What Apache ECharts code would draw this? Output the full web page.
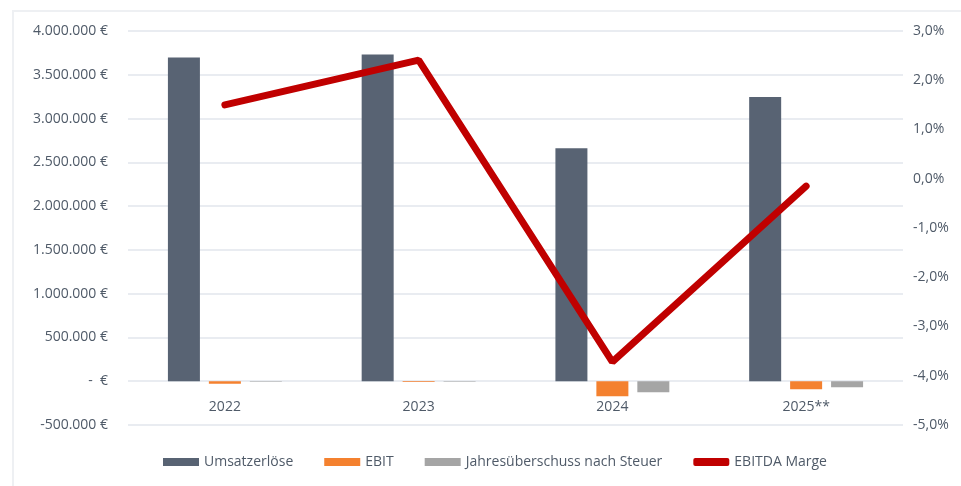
<!DOCTYPE html>
<html>
<head>
<meta charset="utf-8">
<script src="https://cdn.jsdelivr.net/npm/echarts@6/dist/echarts.min.js"></script>
<style>
html, body { margin: 0; padding: 0; background: #fff; }
#chart { width: 961px; height: 486px; position: relative; }
#frame { position: absolute; left: 12px; top: 10px; right: -2px; bottom: -2px; border-left: 2px solid #eef0f3; border-top: 2px solid #eef0f3; pointer-events: none; }
</style>
</head>
<body>
<div id="chart"></div>
<div id="frame"></div>
<script>
var years = ['2022', '2023', '2024', '2025**'];
var umsatz = [3698000, 3733000, 2660000, 3245000];
var ebit = [-30000, -10000, -171000, -91000];
var jahres = [-6000, -5000, -125000, -68000];
var marge = [1.50, 2.41, -3.72, -0.15];

var textColor = '#4f5a68';
var fontFam = '"Open Sans", "Noto Sans", sans-serif';

// Excel-Buchhaltungsformat nachbauen
function euroFmt(v) {
	if (v === 0) return '-  €';
	var s = Math.abs(v).toString().replace(/\B(?=(\d{3})+(?!\d))/g, '.');
	return (v < 0 ? '-' : '') + s + ' €';
}
function pctFmt(v) {
	return v.toFixed(1).replace('.', ',') + '%';
}

var myChart = echarts.init(document.getElementById('chart'));
var option = {
	animation: false,
	textStyle: { fontFamily: fontFam },
	grid: { left: 128, right: 58, top: 31, bottom: 61 },
	legend: {
		bottom: 12,
		left: 158,
		itemGap: 31,
		itemWidth: 36,
		itemHeight: 8,
		textStyle: { color: textColor, fontSize: 14, fontFamily: fontFam },
		data: [
			{ name: 'Umsatzerlöse', icon: 'rect' },
			{ name: 'EBIT', icon: 'rect' },
			{ name: 'Jahresüberschuss nach Steuer', icon: 'rect' },
			{ name: 'EBITDA Marge', icon: 'roundRect', itemStyle: { color: '#c00000' } }
		]
	},
	xAxis: {
		type: 'category',
		data: years,
		axisLine: { onZero: false, show: false },
		axisTick: { show: false },
		axisLabel: { color: textColor, fontSize: 14, margin: -25 }
	},
	yAxis: [
		{
			type: 'value',
			min: -500000,
			max: 4000000,
			interval: 500000,
			axisLine: { show: false },
			axisTick: { show: false },
			splitLine: { lineStyle: { color: '#e9ecf1', width: 2 } },
			axisLabel: { color: textColor, fontSize: 14, margin: 20, formatter: euroFmt }
		},
		{
			type: 'value',
			min: -5,
			max: 3,
			interval: 1,
			axisLine: { show: false },
			axisTick: { show: false },
			splitLine: { show: false },
			axisLabel: { color: textColor, fontSize: 14, margin: 10, formatter: pctFmt }
		}
	],
	series: [
		{
			name: 'Umsatzerlöse',
			type: 'bar',
			barWidth: 32,
			barGap: '28%',
			itemStyle: { color: '#586373' },
			data: umsatz
		},
		{
			name: 'EBIT',
			type: 'bar',
			barWidth: 32,
			barGap: '28%',
			itemStyle: { color: '#f4812f' },
			data: ebit
		},
		{
			name: 'Jahresüberschuss nach Steuer',
			type: 'bar',
			barWidth: 32,
			barGap: '28%',
			itemStyle: { color: '#a5a5a5' },
			data: jahres
		},
		{
			name: 'EBITDA Marge',
			type: 'line',
			yAxisIndex: 1,
			symbol: 'none',
			lineStyle: { color: '#c00000', width: 7, cap: 'round' },
			itemStyle: { color: '#c00000' },
			data: marge
		}
	]
};
myChart.setOption(option);
</script>
</body>
</html>
